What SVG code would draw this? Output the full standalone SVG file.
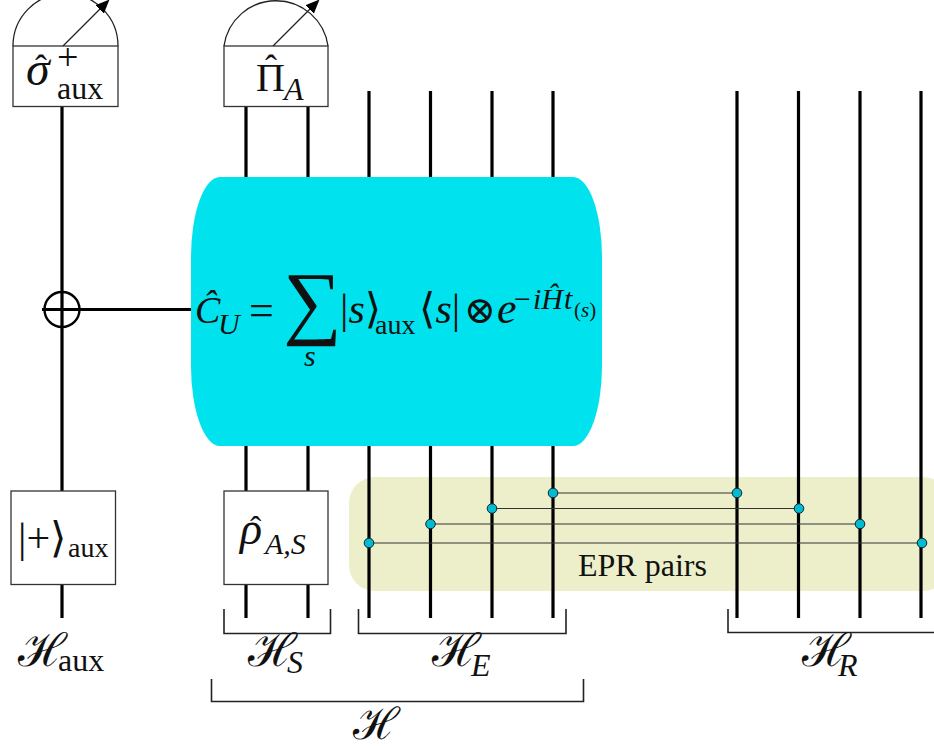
<svg xmlns="http://www.w3.org/2000/svg" width="934" height="748" viewBox="0 0 934 748">
<style>
.w{stroke:#000;stroke-width:3.2;fill:none}
.t{stroke:#222;stroke-width:1.3;fill:none}
.b{stroke:#222;stroke-width:1.6;fill:none}
.box{fill:#fff;stroke:#333;stroke-width:1.3}
.e{stroke:#333;stroke-width:1.2;fill:none}
.d{fill:#00bcd0;stroke:#123;stroke-width:1}
text{font-family:"Liberation Serif","DejaVu Serif",serif;fill:#111}
.i{font-style:italic}
.n{font-style:normal}
</style>
<defs><marker id="ah" markerUnits="userSpaceOnUse" markerWidth="16" markerHeight="16" refX="2" refY="6" orient="auto"><path d="M0 0L14 6L0 12Z" fill="#000"/></marker></defs>
<rect x="349" y="477" width="600" height="114" rx="26" fill="#ecefc9"/>
<g id="connectors">
<path class="w" d="M62 100V618M246 100V180M246 440V618M308 100V180M308 440V618M369 91V180M369 440V618M430.500 91V180M430.500 440V618M492 91V180M492 440V618M553 91V180M553 440V618M737 91V618M798.500 91V618M860 91V618M921 91V618"/>
<path class="w" d="M42 309.500H195"/>
<path class="e" d="M553 493H737M492 508.500H799M430.500 524H860M369 543H922"/>
</g>
<g id="oplus"><circle cx="62" cy="309.500" r="17.500" fill="none" stroke="#000" stroke-width="2.400"/></g>
<g id="meas-aux">
<path class="t" d="M13 46A52.500 52.500 0 0 1 118 46"/>
<rect class="box" x="13" y="46" width="105" height="60.500"/>
<path class="t" d="M63 46L101 8" marker-end="url(#ah)"/>
<text x="26" y="85" font-size="48" class="i">σ<tspan class="n" x="35" y="80" font-size="36">ˆ</tspan><tspan class="n" x="57" y="70" font-size="38">+</tspan><tspan class="n" x="57" y="99" font-size="32">aux</tspan></text>
</g>
<g id="meas-a">
<path class="t" d="M224 46A52.500 52.500 0 0 1 328 46"/>
<rect class="box" x="224" y="46" width="104" height="60.500"/>
<path class="t" d="M273 46L311 8" marker-end="url(#ah)"/>
<text x="256" y="91" font-size="40">Π<tspan x="265" y="80" font-size="36">ˆ</tspan><tspan class="i" x="284" y="100" font-size="32">A</tspan></text>
</g>
<g id="cu">
<rect x="191" y="177" width="411" height="269" rx="29" ry="80" fill="#00e3ee"/>
<text x="195" y="323" font-size="38" class="i">Ĉ<tspan x="218" y="334" font-size="30">U</tspan></text>
<text x="249" y="325" font-size="44">=</text>
<text x="283" y="329" font-size="82">∑<tspan class="i" x="304" y="366" font-size="30">s</tspan></text>
<text x="340" y="323" font-size="42">|<tspan class="i">s</tspan>⟩<tspan x="375" y="334" font-size="28">aux</tspan></text>
<text x="419" y="323" font-size="42">⟨<tspan class="i">s</tspan>|</text>
<text x="464" y="323" font-size="38">⊗</text>
<text x="497" y="323" font-size="44" class="i">e<tspan class="n" x="514" y="309" font-size="30">−</tspan><tspan x="533" y="309" font-size="30">iĤ</tspan><tspan x="564" y="309" font-size="30">t</tspan><tspan class="n" x="574" y="317" font-size="21">(</tspan><tspan font-size="21">s</tspan><tspan class="n" font-size="21">)</tspan></text>
</g>
<g id="plus-aux">
<rect class="box" x="11" y="491" width="104.500" height="93.500"/>
<text x="18" y="552" font-size="42">|+⟩<tspan x="68" y="557" font-size="28">aux</tspan></text>
</g>
<g id="rho">
<rect class="box" x="224" y="491" width="104" height="93.500"/>
<text x="240" y="544" font-size="46" class="i">ρ<tspan class="n" x="250" y="540" font-size="34">ˆ</tspan><tspan x="265" y="554" font-size="30">A,S</tspan></text>
</g>
<g id="epr"><circle class="d" cx="553" cy="493" r="4.800"/><circle class="d" cx="737" cy="493" r="4.800"/><circle class="d" cx="492" cy="508.500" r="4.800"/><circle class="d" cx="799" cy="508.500" r="4.800"/><circle class="d" cx="430.500" cy="524" r="4.800"/><circle class="d" cx="860" cy="524" r="4.800"/><circle class="d" cx="369" cy="543" r="4.800"/><circle class="d" cx="922" cy="543" r="4.800"/>
<text x="578" y="576" font-size="32">EPR pairs</text></g>
<g id="brackets">
<path class="b" d="M224 609V633.500H330.500V609M358.500 609V633.500H566V609M728 609V632.500H934M211.500 679V701.500H583.500V679"/>
</g>
<g id="labels">
<text x="18" y="666" font-size="46">ℋ<tspan x="58" y="671" font-size="32">aux</tspan></text>
<text x="248" y="666" font-size="46">ℋ<tspan class="i" x="287" y="673" font-size="32">S</tspan></text>
<text x="432" y="666" font-size="46">ℋ<tspan class="i" x="471" y="676" font-size="32">E</tspan></text>
<text x="802" y="666" font-size="46">ℋ<tspan class="i" x="838" y="676" font-size="32">R</tspan></text>
<text x="353" y="739" font-size="44">ℋ</text>
</g>
</svg>
